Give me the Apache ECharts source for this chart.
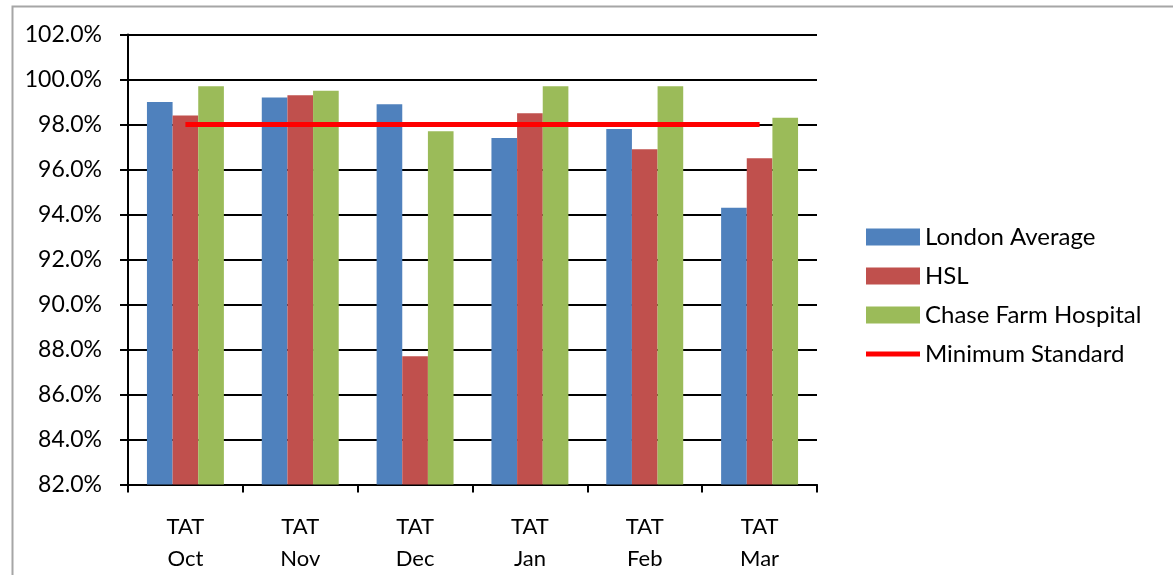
<!DOCTYPE html>
<html>
<head>
<meta charset="utf-8">
<script src="https://cdn.jsdelivr.net/npm/echarts@6/dist/echarts.min.js"></script>
<style>
  html, body { margin: 0; padding: 0; background: #fff; }
  #chart { width: 1173px; height: 575px; }
</style>
</head>
<body>
<div id="chart"></div>
<script>
// Monthly turnaround-time compliance (%)
const categories = ['TAT\nOct', 'TAT\nNov', 'TAT\nDec', 'TAT\nJan', 'TAT\nFeb', 'TAT\nMar'];
const londonAverage = [99.0, 99.2, 98.9, 97.4, 97.8, 94.3];
const hsl = [98.4, 99.3, 87.7, 98.5, 96.9, 96.5];
const chaseFarm = [99.7, 99.5, 97.7, 99.7, 99.7, 98.3];
const minimumStandard = [98.0, 98.0, 98.0, 98.0, 98.0, 98.0];
const yMin = 82, yMax = 102, yStep = 2;

const FONT = 'Lato, "Liberation Sans", sans-serif';
const chart = echarts.init(document.getElementById('chart'), null, { renderer: 'canvas' });

chart.setOption({
  animation: false,
  backgroundColor: '#fff',
  textStyle: { fontFamily: FONT, color: '#000' },
  graphic: [{
    type: 'rect',
    left: 10, top: 4,
    shape: { width: 1200, height: 620 },
    style: { fill: 'none', stroke: '#a6a6a6', lineWidth: 2 },
    silent: true
  }],
  grid: { left: 128, right: 356, top: 34.5, bottom: 90.5, containLabel: false },
  legend: {
    orient: 'vertical',
    left: 861,
    top: 220,
    itemWidth: 54,
    itemHeight: 17,
    itemGap: 15,
    symbolKeepAspect: true,
    textStyle: { fontFamily: FONT, fontSize: 24, color: '#000', lineHeight: 24 },
    data: [
      { name: 'London Average', icon: 'rect' },
      { name: 'HSL', icon: 'rect' },
      { name: 'Chase Farm Hospital', icon: 'rect' },
      { name: 'Minimum Standard', icon: 'path://M0,0H54V5H0Z' }
    ]
  },
  xAxis: {
    type: 'category',
    data: categories,
    axisLine: { lineStyle: { color: '#000', width: 2 } },
    axisTick: { show: true, alignWithLabel: false, length: 8, lineStyle: { color: '#000', width: 2 } },
    axisLabel: { fontFamily: FONT, fontSize: 22, color: '#000', lineHeight: 32, margin: 26, interval: 0 }
  },
  yAxis: {
    type: 'value',
    min: yMin, max: yMax, interval: yStep,
    axisLine: { show: true, lineStyle: { color: '#000', width: 2 } },
    axisTick: { show: true, length: 8, lineStyle: { color: '#000', width: 2 } },
    splitLine: { show: true, lineStyle: { color: '#000', width: 2 } },
    axisLabel: {
      fontFamily: FONT, fontSize: 23, color: '#000', margin: 26,
      formatter: v => v.toFixed(1) + '%'
    }
  },
  series: [
    { name: 'London Average', type: 'bar', data: londonAverage, itemStyle: { color: '#4f81bd' }, barGap: '0%', barCategoryGap: '33%', z: 2 },
    { name: 'HSL', type: 'bar', data: hsl, itemStyle: { color: '#c0504d' }, z: 2 },
    { name: 'Chase Farm Hospital', type: 'bar', data: chaseFarm, itemStyle: { color: '#9bbb59' }, z: 2 },
    {
      name: 'Minimum Standard', type: 'line', data: minimumStandard,
      symbol: 'none', itemStyle: { color: '#ff0000' },
      lineStyle: { color: '#ff0000', width: 5 }, z: 5
    }
  ]
});
</script>
</body>
</html>
